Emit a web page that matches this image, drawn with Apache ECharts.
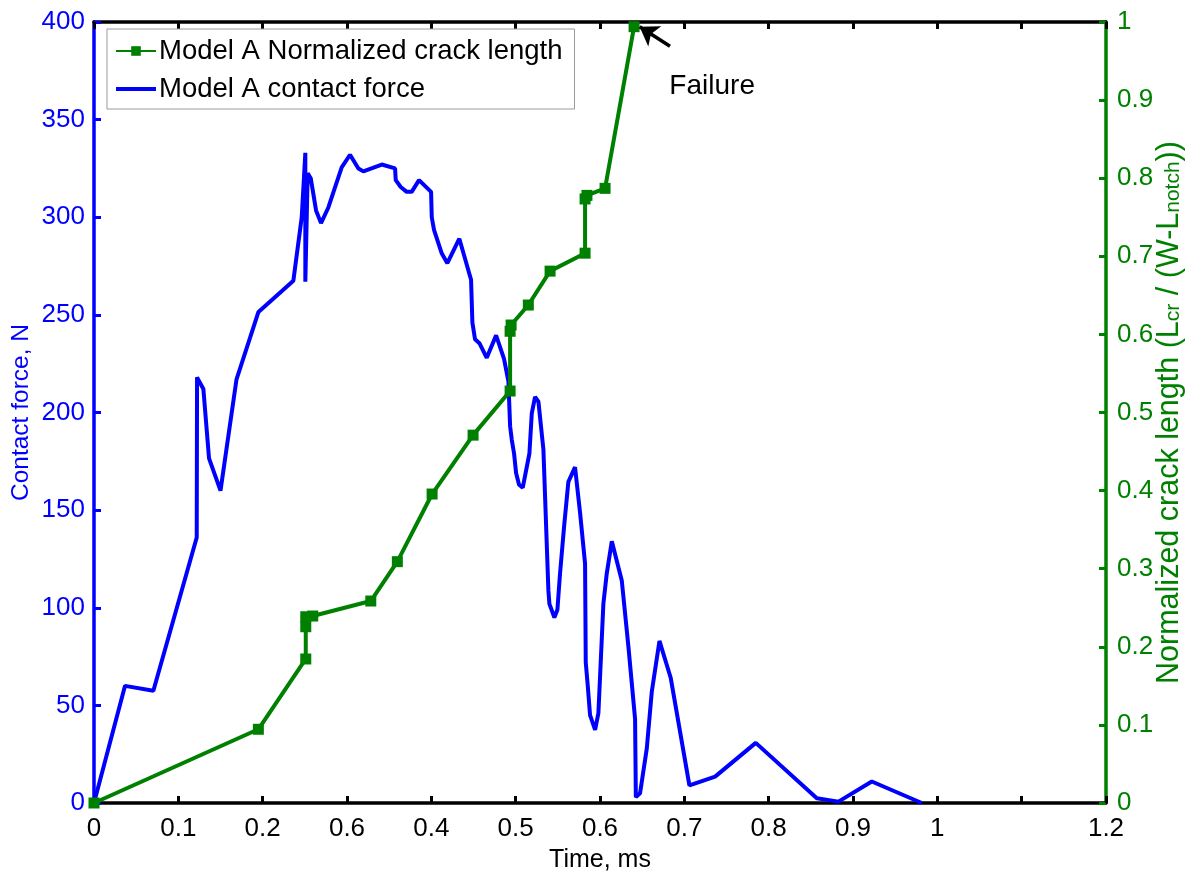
<!DOCTYPE html>
<html>
<head>
<meta charset="utf-8">
<title>Model A contact force and crack length</title>
<script src="https://cdn.jsdelivr.net/npm/echarts@6/dist/echarts.min.js"></script>
<style>
  html, body { margin: 0; padding: 0; background: #fff; }
  #chart { width: 1194px; height: 874px; }
</style>
</head>
<body>
<div id="chart"></div>
<script>
// Contact force history, Model A (time in ms, force in N)
const forceT = [0, 0.0368, 0.0704, 0.1218, 0.1222, 0.1297, 0.1364, 0.150, 0.169, 0.195,
  0.2364, 0.2463, 0.2506, 0.2506, 0.2534, 0.257, 0.2633, 0.2692, 0.2779, 0.2937, 0.3036,
  0.3135, 0.3194, 0.3412, 0.357, 0.3578, 0.3637, 0.3708, 0.3767, 0.3854, 0.3997, 0.4005,
  0.4032, 0.4123, 0.419, 0.4332, 0.4471, 0.4487, 0.4518, 0.457, 0.4657, 0.4768, 0.4862,
  0.4914, 0.4934, 0.4954, 0.4981, 0.5005, 0.504, 0.5084, 0.5163, 0.5191, 0.523, 0.527,
  0.5329, 0.5388, 0.540, 0.5459, 0.5495, 0.5526, 0.5574, 0.5625, 0.5704, 0.5764, 0.5823,
  0.5831, 0.5855, 0.5882, 0.5942, 0.5981, 0.604, 0.608, 0.614, 0.6258, 0.6337, 0.6416,
  0.6425, 0.6475, 0.6555, 0.6614, 0.6705, 0.6839, 0.706, 0.7365, 0.7847, 0.8571, 0.8828,
  0.9223, 0.9816];
const forceN = [0, 60, 57.5, 136, 218, 212, 176.5, 160, 217, 251.5,
  267.5, 300, 333, 267, 322.5, 320, 303.5, 297, 305, 325.5, 332,
  325, 323.5, 327, 325, 319, 315.5, 313, 313, 319, 313, 300,
  293.5, 281.5, 276.5, 289, 268, 246, 237.5, 235.5, 228, 239.5, 227.5,
  216, 193, 186, 179, 169, 163, 161.5, 179, 199.5, 208, 205.5,
  181, 109, 102, 95, 99, 117.5, 141.5, 164.5, 172, 148.5, 122.5,
  72, 60, 45, 37.5, 46, 102, 117.5, 134, 114, 80, 43,
  3, 5, 28, 57, 83, 64, 9, 13.5, 30.8, 2.4, 0.7,
  11, 0];

// Normalized crack length L_cr / (W - L_notch), Model A
const crackT = [0, 0.1949, 0.2511, 0.2511, 0.2511, 0.2594, 0.3282, 0.3597, 0.4009, 0.4495,
  0.4934, 0.4934, 0.4946, 0.515, 0.5408, 0.5823, 0.5823, 0.5845, 0.606, 0.6404];
const crackRatio = [0, 0.0944, 0.1844, 0.2257, 0.2385, 0.2394, 0.2586, 0.309, 0.3956, 0.471,
  0.5275, 0.604, 0.612, 0.6376, 0.681, 0.704, 0.7734, 0.778, 0.787, 0.994];

// Bottom axis tick labels, one per 0.1 ms step from 0 to 1.2
const timeTickLabels = ['0', '0.1', '0.2', '0.6', '0.4', '0.5', '0.6', '0.7', '0.8', '0.9', '1', '', '1.2'];

// Failure annotation: arrow tail/head and text anchor (time, crack ratio)
const failureArrowFrom = [0.683, 0.969];
const failureArrowTo = [0.647, 0.994];
const failureTextAt = [0.733, 0.918];

const BLUE = '#0000ff';
const GREEN = '#008000';
const FONT = '"Liberation Sans", Arial, sans-serif';

const forceData = forceT.map((t, i) => [t, forceN[i]]);
const crackData = crackT.map((t, i) => [t, crackRatio[i]]);

const chart = echarts.init(document.getElementById('chart'), null, { renderer: 'canvas' });

const option = {
  animation: false,
  backgroundColor: '#fff',
  textStyle: { fontFamily: FONT },
  grid: { left: 94, right: 88, top: 22, bottom: 71, containLabel: false, outerBoundsMode: 'none' },
  legend: {
    orient: 'vertical',
    left: 107,
    top: 29,
    padding: [8, 12, 6, 8],
    itemGap: 10,
    itemWidth: 40,
    itemHeight: 12,
    symbolKeepAspect: true,
    backgroundColor: '#fff',
    borderColor: '#9a9a9a',
    borderWidth: 1,
    borderRadius: 0,
    textStyle: { fontSize: 27.5, color: '#000', fontFamily: FONT, padding: [0, 0, 0, -2] },
    data: [
      { name: 'Model A Normalized crack length' },
      { name: 'Model A contact force', icon: 'path://M0,0 H40 V4 H0 Z' }
    ]
  },
  xAxis: [
    {
      type: 'value',
      position: 'bottom',
      min: 0, max: 1.2, interval: 0.1,
      name: 'Time, ms',
      nameLocation: 'middle',
      nameGap: 45,
      nameMoveOverlap: false,
      nameTextStyle: { fontSize: 25, color: '#000', fontFamily: FONT },
      axisLine: { show: true, onZero: false, lineStyle: { color: '#000', width: 3.5 } },
      axisTick: { show: true, inside: true, length: 7, lineStyle: { color: '#000', width: 3 } },
      axisLabel: {
        fontSize: 26, color: '#000', margin: 13, fontFamily: FONT,
        formatter: v => timeTickLabels[Math.round(v * 10)] ?? ''
      },
      splitLine: { show: false }
    },
    {
      type: 'value',
      position: 'top',
      min: 0, max: 1.2, interval: 0.1,
      axisLine: { show: true, onZero: false, lineStyle: { color: '#000', width: 3.5 } },
      axisTick: { show: true, inside: true, length: 7, lineStyle: { color: '#000', width: 3 } },
      axisLabel: { show: false },
      splitLine: { show: false }
    }
  ],
  yAxis: [
    {
      type: 'value',
      position: 'left',
      min: 0, max: 400, interval: 50,
      name: 'Contact force, N',
      nameLocation: 'middle',
      nameGap: 60,
      nameMoveOverlap: false,
      nameRotate: 90,
      nameTextStyle: { fontSize: 24.5, color: BLUE, fontFamily: FONT },
      axisLine: { show: true, onZero: false, lineStyle: { color: BLUE, width: 3.5 } },
      axisTick: { show: true, inside: true, length: 7, lineStyle: { color: BLUE, width: 3 } },
      axisLabel: { fontSize: 26, color: BLUE, margin: 9, fontFamily: FONT },
      splitLine: { show: false }
    },
    {
      type: 'value',
      position: 'right',
      min: 0, max: 1, interval: 0.1,
      name: '{n|Normalized crack length (L}{s|cr}{n| / (W-L}{s|notch}{n|))}',
      nameLocation: 'middle',
      nameGap: 48,
      nameMoveOverlap: false,
      nameRotate: 90,
      nameTextStyle: {
        color: GREEN, fontFamily: FONT,
        rich: {
          n: { fontSize: 30.5, color: GREEN, fontFamily: FONT, lineHeight: 30, verticalAlign: 'top' },
          s: { fontSize: 21, color: GREEN, fontFamily: FONT, lineHeight: 16, verticalAlign: 'bottom' }
        }
      },
      axisLine: { show: true, onZero: false, lineStyle: { color: GREEN, width: 3.5 } },
      axisTick: { show: true, inside: true, length: 7, lineStyle: { color: GREEN, width: 3 } },
      axisLabel: {
        fontSize: 26, color: GREEN, margin: 11, fontFamily: FONT,
        formatter: v => (Math.abs(v) < 1e-9 ? '0' : Math.abs(v - 1) < 1e-9 ? '1' : v.toFixed(1))
      },
      splitLine: { show: false }
    }
  ],
  series: [
    {
      name: 'Model A contact force',
      type: 'line',
      xAxisIndex: 0,
      yAxisIndex: 0,
      data: forceData,
      showSymbol: false,
      symbol: 'none',
      lineStyle: { color: BLUE, width: 4 },
      itemStyle: { color: BLUE },
      z: 2
    },
    {
      name: 'Model A Normalized crack length',
      type: 'line',
      xAxisIndex: 0,
      yAxisIndex: 1,
      data: crackData,
      symbol: 'rect',
      symbolSize: 11,
      showAllSymbol: true,
      lineStyle: { color: GREEN, width: 4 },
      itemStyle: { color: GREEN },
      z: 3,
      markLine: {
        silent: true,
        z: 10,
        symbol: ['none', 'arrow'],
        symbolSize: 18,
        lineStyle: { color: '#000', width: 3.5, type: 'solid' },
        itemStyle: { color: '#000' },
        label: { show: false },
        data: [[{ coord: failureArrowFrom }, { coord: failureArrowTo }]]
      },
      markPoint: {
        silent: true,
        symbol: 'circle',
        symbolSize: 0,
        label: { show: true, formatter: 'Failure', color: '#000', fontSize: 28, fontFamily: FONT, position: 'inside' },
        data: [{ coord: failureTextAt, value: 0 }]
      }
    }
  ]
};

chart.setOption(option);
</script>
</body>
</html>
